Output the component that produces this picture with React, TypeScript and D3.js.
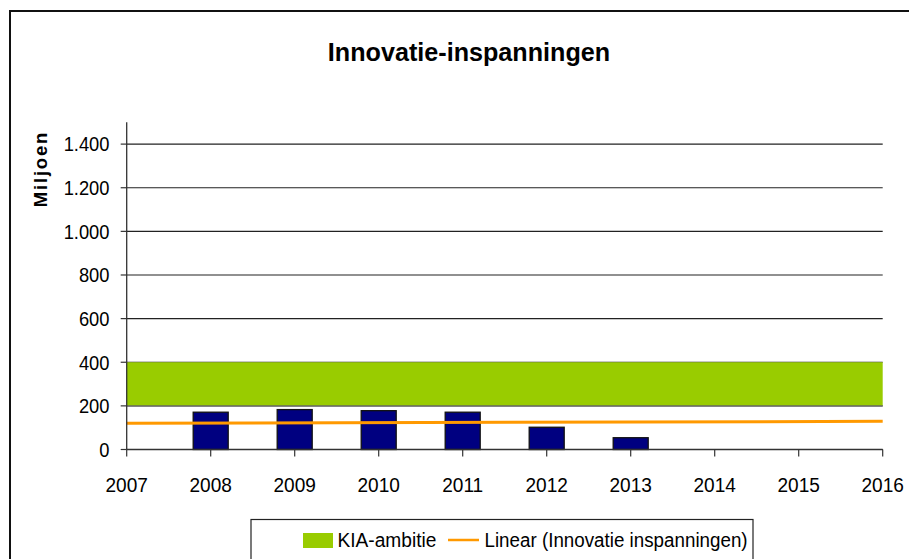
import React from "react";
import * as d3 from "d3";

const barYears = [2008, 2009, 2010, 2011, 2012, 2013];
const barValues = [171, 183, 178, 171, 102, 54];
const axisYears = [2007, 2008, 2009, 2010, 2011, 2012, 2013, 2014, 2015, 2016];
const kiaYears = [2007, 2016];
const kiaLow = [200, 200];
const kiaHigh = [400, 400];
const trendYears = [2007, 2016];
const trendValues = [120, 129];
const yTicks = [0, 200, 400, 600, 800, 1000, 1200, 1400];
const fmt = (v: number) => d3.format(",")(v).replace(/,/g, ".");

export default function App() {
  const W = 909, H = 559;
  const left = 126.7, right = 882.7, top = 122.3, bottom = 449.5;
  const x = d3.scaleLinear().domain([2007, 2016]).range([left, right]);
  const y = d3.scaleLinear().domain([0, 1500]).range([bottom, top]);
  const barW = 35;
  const font = "'Liberation Sans', Arial, sans-serif";

  const area = d3
    .area<number>()
    .x((_, i) => x(kiaYears[i]))
    .y0((_, i) => y(kiaLow[i]))
    .y1((_, i) => y(kiaHigh[i]));
  const line = d3
    .line<number>()
    .x((_, i) => x(trendYears[i]))
    .y((d) => y(d));

  return (
    <svg width={W} height={H} style={{ position: "absolute", left: 0, top: 0, display: "block" }} fontFamily={font}>
      <rect x={0} y={0} width={W} height={H} fill="#fff" />
      <rect x={10} y={11} width={W + 20} height={H + 20} fill="none" stroke="#111" strokeWidth={2} />
      <text transform="translate(469,61) scale(0.95,1)" textAnchor="middle" fontSize={26.5} fontWeight="bold" fill="#000">
        Innovatie-inspanningen
      </text>
      <text
        transform={`translate(46.5,169) rotate(-90)`}
        textAnchor="middle"
        fontSize={18.5}
        fontWeight="bold"
        letterSpacing={1.8}
        fill="#000"
      >
        Miljoen
      </text>
      {/* gridlines */}
      {yTicks.map((t) => (
        <line key={"g" + t} x1={left} x2={right} y1={y(t)} y2={y(t)} stroke="#222" strokeWidth={1.2} />
      ))}
      {/* KIA band */}
      <path d={area(kiaLow) || ""} fill="#99CC00" />
      <line x1={left} x2={right} y1={y(200)} y2={y(200)} stroke="#666" strokeWidth={1} />
      {/* bars */}
      {barYears.map((yr, i) => (
        <rect
          key={yr}
          x={x(yr) - barW / 2}
          y={y(barValues[i])}
          width={barW}
          height={y(0) - y(barValues[i])}
          fill="#000080"
          stroke="#111"
          strokeWidth={1.3}
        />
      ))}
      {/* trend */}
      <path d={line(trendValues) || ""} fill="none" stroke="#FF9900" strokeWidth={3} />
      {/* axes */}
      <line x1={left} x2={left} y1={top} y2={bottom} stroke="#333" strokeWidth={1.3} />
      <line x1={left} x2={right} y1={bottom} y2={bottom} stroke="#333" strokeWidth={1.3} />
      {yTicks.map((t) => (
        <g key={"yt" + t}>
          <line x1={left - 6} x2={left} y1={y(t)} y2={y(t)} stroke="#333" strokeWidth={1.2} />
          <text transform={`translate(109.5,${y(t) + 7.3}) scale(0.95,1)`} textAnchor="end" fontSize={19.3} fill="#000">
            {fmt(t)}
          </text>
        </g>
      ))}
      {axisYears.map((yr) => (
        <g key={"xt" + yr}>
          <line x1={x(yr)} x2={x(yr)} y1={bottom} y2={bottom + 7} stroke="#333" strokeWidth={1.2} />
          <text transform={`translate(${x(yr)},492) scale(0.93,1)`} textAnchor="middle" fontSize={20.5} fill="#000">
            {yr}
          </text>
        </g>
      ))}
      {/* legend */}
      <rect x={251} y={519.5} width={502} height={60} fill="#fff" stroke="#222" strokeWidth={1.2} />
      <rect x={303} y={533} width={30} height={15} fill="#99CC00" />
      <text transform="translate(337.5,546.5) scale(0.93,1)" fontSize={20.6} fill="#000">
        KIA-ambitie
      </text>
      <line x1={448} x2={479} y1={540} y2={540} stroke="#FF9900" strokeWidth={2.5} />
      <text transform="translate(484.5,546.5) scale(0.93,1)" fontSize={20.2} fill="#000">
        Linear (Innovatie inspanningen)
      </text>
    </svg>
  );
}
